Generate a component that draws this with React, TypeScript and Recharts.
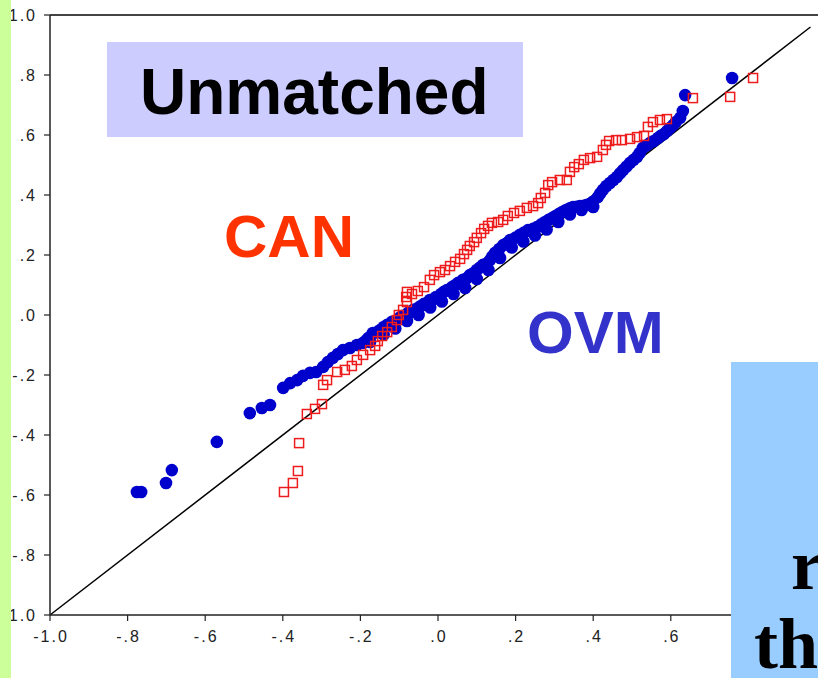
import React from 'react';
import { ScatterChart, Scatter, XAxis, YAxis, ReferenceLine } from 'recharts';

// ---- axis ticks (the x ticks beyond .6 are hidden behind the slide box in the original) ----
const xTicks = [-1, -0.8, -0.6, -0.4, -0.2, 0, 0.2, 0.4, 0.6];
const xTickLabels = ['-1.0', '-.8', '-.6', '-.4', '-.2', '.0', '.2', '.4', '.6'];
const yTicks = [-1, -0.8, -0.6, -0.4, -0.2, 0, 0.2, 0.4, 0.6, 0.8, 1];
const yTickLabels = ['-1.0', '-.8', '-.6', '-.4', '-.2', '.0', '.2', '.4', '.6', '.8', '1.0'];

// ---- OVM series (blue filled circles) [x, y] ----
const ovmPoints: [number, number][] = [
  [-0.776, -0.59], [-0.765, -0.59], [-0.701, -0.56], [-0.686, -0.517], [-0.57, -0.423],
  [-0.485, -0.327], [-0.454, -0.31], [-0.433, -0.3], [-0.399, -0.243], [-0.381, -0.227],
  [-0.363, -0.217], [-0.348, -0.203], [-0.33, -0.193], [-0.314, -0.19], [-0.296, -0.173],
  [-0.284, -0.157], [-0.271, -0.143], [-0.258, -0.13], [-0.245, -0.117], [-0.227, -0.11],
  [-0.209, -0.1], [-0.193, -0.093], [-0.185, -0.085], [-0.18, -0.077], [-0.175, -0.09],
  [-0.168, -0.06], [-0.158, -0.058], [-0.149, -0.05], [-0.14, -0.065], [-0.14, -0.04],
  [-0.131, -0.033], [-0.119, -0.023], [-0.11, -0.045], [-0.106, -0.017], [-0.098, -0.008],
  [-0.09, -0.003], [-0.08, -0.02], [-0.077, 0.007], [-0.07, 0.01], [-0.064, 0.017],
  [-0.052, 0.023], [-0.05, 0.0], [-0.044, 0.03], [-0.036, 0.037], [-0.021, 0.05],
  [-0.02, 0.025], [-0.012, 0.052], [-0.005, 0.06], [0.008, 0.07], [0.01, 0.045],
  [0.015, 0.077], [0.023, 0.083], [0.036, 0.093], [0.04, 0.07], [0.045, 0.1],
  [0.052, 0.107], [0.064, 0.117], [0.07, 0.09], [0.074, 0.122], [0.082, 0.133],
  [0.092, 0.14], [0.1, 0.15], [0.1, 0.12], [0.108, 0.158], [0.116, 0.167],
  [0.126, 0.172], [0.13, 0.15], [0.134, 0.183], [0.14, 0.195], [0.147, 0.207],
  [0.158, 0.22], [0.16, 0.19], [0.168, 0.233], [0.178, 0.24], [0.186, 0.25],
  [0.19, 0.225], [0.2, 0.258], [0.211, 0.267], [0.22, 0.245], [0.222, 0.275],
  [0.232, 0.283], [0.245, 0.287], [0.25, 0.265], [0.255, 0.293], [0.266, 0.302],
  [0.276, 0.31], [0.28, 0.285], [0.285, 0.317], [0.294, 0.323], [0.303, 0.33],
  [0.31, 0.31], [0.312, 0.337], [0.32, 0.343], [0.33, 0.35], [0.34, 0.335],
  [0.34, 0.356], [0.348, 0.36], [0.357, 0.361], [0.366, 0.363], [0.37, 0.35],
  [0.375, 0.364], [0.384, 0.367], [0.392, 0.37], [0.399, 0.377], [0.4, 0.36],
  [0.412, 0.393], [0.418, 0.405], [0.425, 0.417], [0.434, 0.43], [0.443, 0.44],
  [0.452, 0.45], [0.461, 0.46], [0.469, 0.472], [0.477, 0.483], [0.486, 0.495],
  [0.495, 0.507], [0.504, 0.517], [0.513, 0.527], [0.52, 0.54], [0.528, 0.557],
  [0.537, 0.565], [0.546, 0.573], [0.556, 0.58], [0.567, 0.59], [0.574, 0.597],
  [0.582, 0.603], [0.59, 0.613], [0.598, 0.623], [0.606, 0.633], [0.613, 0.643],
  [0.624, 0.657], [0.631, 0.68], [0.637, 0.733], [0.758, 0.79],
];

// ---- CAN series (red hollow squares) [x, y] ----
const canPoints: [number, number][] = [
  [-0.397, -0.59], [-0.374, -0.56], [-0.361, -0.52], [-0.358, -0.427], [-0.338, -0.33],
  [-0.317, -0.313], [-0.299, -0.297], [-0.296, -0.233], [-0.286, -0.217], [-0.26, -0.19],
  [-0.24, -0.183], [-0.222, -0.17], [-0.209, -0.15], [-0.193, -0.133], [-0.175, -0.117],
  [-0.162, -0.103], [-0.155, -0.087], [-0.144, -0.07], [-0.131, -0.057], [-0.119, -0.04],
  [-0.106, -0.017], [-0.101, 0.0], [-0.09, 0.017], [-0.082, 0.06], [-0.08, 0.043],
  [-0.08, 0.077], [-0.067, 0.07], [-0.052, 0.08], [-0.036, 0.093], [-0.021, 0.117],
  [-0.01, 0.133], [0.005, 0.143], [0.018, 0.15], [0.031, 0.163], [0.044, 0.177],
  [0.057, 0.187], [0.067, 0.203], [0.075, 0.217], [0.082, 0.23], [0.093, 0.243],
  [0.1, 0.257], [0.111, 0.273], [0.119, 0.287], [0.129, 0.297], [0.139, 0.307],
  [0.155, 0.31], [0.168, 0.317], [0.18, 0.33], [0.196, 0.34], [0.211, 0.347],
  [0.229, 0.357], [0.245, 0.363], [0.258, 0.373], [0.265, 0.39], [0.276, 0.407],
  [0.284, 0.433], [0.294, 0.443], [0.314, 0.45], [0.332, 0.45], [0.34, 0.477],
  [0.351, 0.493], [0.363, 0.503], [0.376, 0.517], [0.392, 0.523], [0.41, 0.527],
  [0.425, 0.55], [0.433, 0.567], [0.441, 0.58], [0.459, 0.583], [0.474, 0.583],
  [0.495, 0.587], [0.513, 0.593], [0.531, 0.597], [0.541, 0.627], [0.554, 0.643],
  [0.572, 0.65], [0.59, 0.653], [0.657, 0.723], [0.753, 0.727], [0.812, 0.79],
];

// ---- reference diagonal (y = x) ----
const diagonal = [{ x: -1, y: -1 }, { x: 0.96, y: 0.96 }];

const ovmData = ovmPoints.map(([x, y]) => ({ x, y }));
const canData = canPoints.map(([x, y]) => ({ x, y }));

const labelFor = (ticks: number[], labels: string[]) => (v: number) => {
  const i = ticks.findIndex((t) => Math.abs(t - v) < 1e-6);
  return i >= 0 ? labels[i] : String(v);
};
const xLabel = labelFor(xTicks, xTickLabels);
const yLabel = labelFor(yTicks, yTickLabels);

const FONT = '"Liberation Sans", Arial, sans-serif';

const XTick = (props: any) => {
  const { x, y, payload } = props;
  return (
    <text x={x + 1} y={y + 12} textAnchor="middle" fontSize={16} fontFamily={FONT} fill="#222" letterSpacing={2}>
      {xLabel(payload.value)}
    </text>
  );
};

const YTick = (props: any) => {
  const { x, y, payload } = props;
  return (
    <text x={x + 2} y={y + 6} textAnchor="end" fontSize={16} fontFamily={FONT} fill="#222" letterSpacing={2}>
      {yLabel(payload.value)}
    </text>
  );
};

const BlueDot = (props: any) => {
  const { cx, cy } = props;
  if (cx == null || cy == null) return null;
  return <circle cx={cx} cy={cy} r={6.3} fill="#0000cc" />;
};

const RedSquare = (props: any) => {
  const { cx, cy } = props;
  if (cx == null || cy == null) return null;
  return (
    <rect x={cx - 4.5} y={cy - 4.5} width={9} height={9} fill="none" stroke="#ee1c1c" strokeWidth={1.5} />
  );
};

export default function App() {
  return (
    <div
      style={{
        position: 'fixed',
        left: 0,
        top: 0,
        width: 818,
        height: 678,
        overflow: 'hidden',
        background: '#ffffff',
      }}
    >
      <div style={{ position: 'absolute', left: 0, top: 0 }}>
        <ScatterChart width={836} height={678} margin={{ top: 15, right: 10, bottom: 0, left: 0 }}>
          <XAxis
            dataKey="x"
            type="number"
            domain={[-1, 1]}
            ticks={xTicks}
            interval={0}
            allowDataOverflow
            height={63}
            tickSize={6}
            tickMargin={9}
            tick={<XTick />}
            axisLine={{ stroke: '#222', strokeWidth: 1.5 }}
            tickLine={{ stroke: '#222', strokeWidth: 1.2 }}
          />
          <YAxis
            dataKey="y"
            type="number"
            domain={[-1, 1]}
            ticks={yTicks}
            interval={0}
            allowDataOverflow
            width={50}
            tickSize={6}
            tickMargin={9}
            tick={<YTick />}
            axisLine={{ stroke: '#222', strokeWidth: 1.5 }}
            tickLine={{ stroke: '#222', strokeWidth: 1.2 }}
          />
          <ReferenceLine y={1} stroke="#444" strokeWidth={2} ifOverflow="visible" />
          <ReferenceLine segment={diagonal} stroke="#000" strokeWidth={1.5} ifOverflow="visible" />
          <Scatter data={ovmData} shape={BlueDot} isAnimationActive={false} />
          <Scatter data={canData} shape={RedSquare} isAnimationActive={false} />
        </ScatterChart>
      </div>
      <svg
        width={818}
        height={678}
        style={{ position: 'absolute', left: 0, top: 0, pointerEvents: 'none' }}
      >
        <rect x={0} y={0} width={11} height={678} fill="#ccff99" />
        <rect x={107} y={42} width={416} height={95} fill="#ccccff" />
        <text x={140} y={114} fontSize={64} fontWeight="bold" fontFamily={FONT} fill="#000">
          Unmatched
        </text>
        <text x={224} y={257} fontSize={60} fontWeight="bold" fontFamily={FONT} fill="#ff3300">
          CAN
        </text>
        <text x={527} y={353} fontSize={60} fontWeight="bold" fontFamily={FONT} fill="#3333cc">
          OVM
        </text>
        <rect x={731} y={362} width={87} height={316} fill="#99ccff" />
        <text
          x={791}
          y={589}
          fontSize={72}
          fontWeight="bold"
          fontFamily='"Liberation Serif", "Times New Roman", serif'
          fill="#000"
        >
          r
        </text>
        <text
          x={754}
          y={668}
          fontSize={72}
          fontWeight="bold"
          fontFamily='"Liberation Serif", "Times New Roman", serif'
          fill="#000"
        >
          the
        </text>
      </svg>
    </div>
  );
}
